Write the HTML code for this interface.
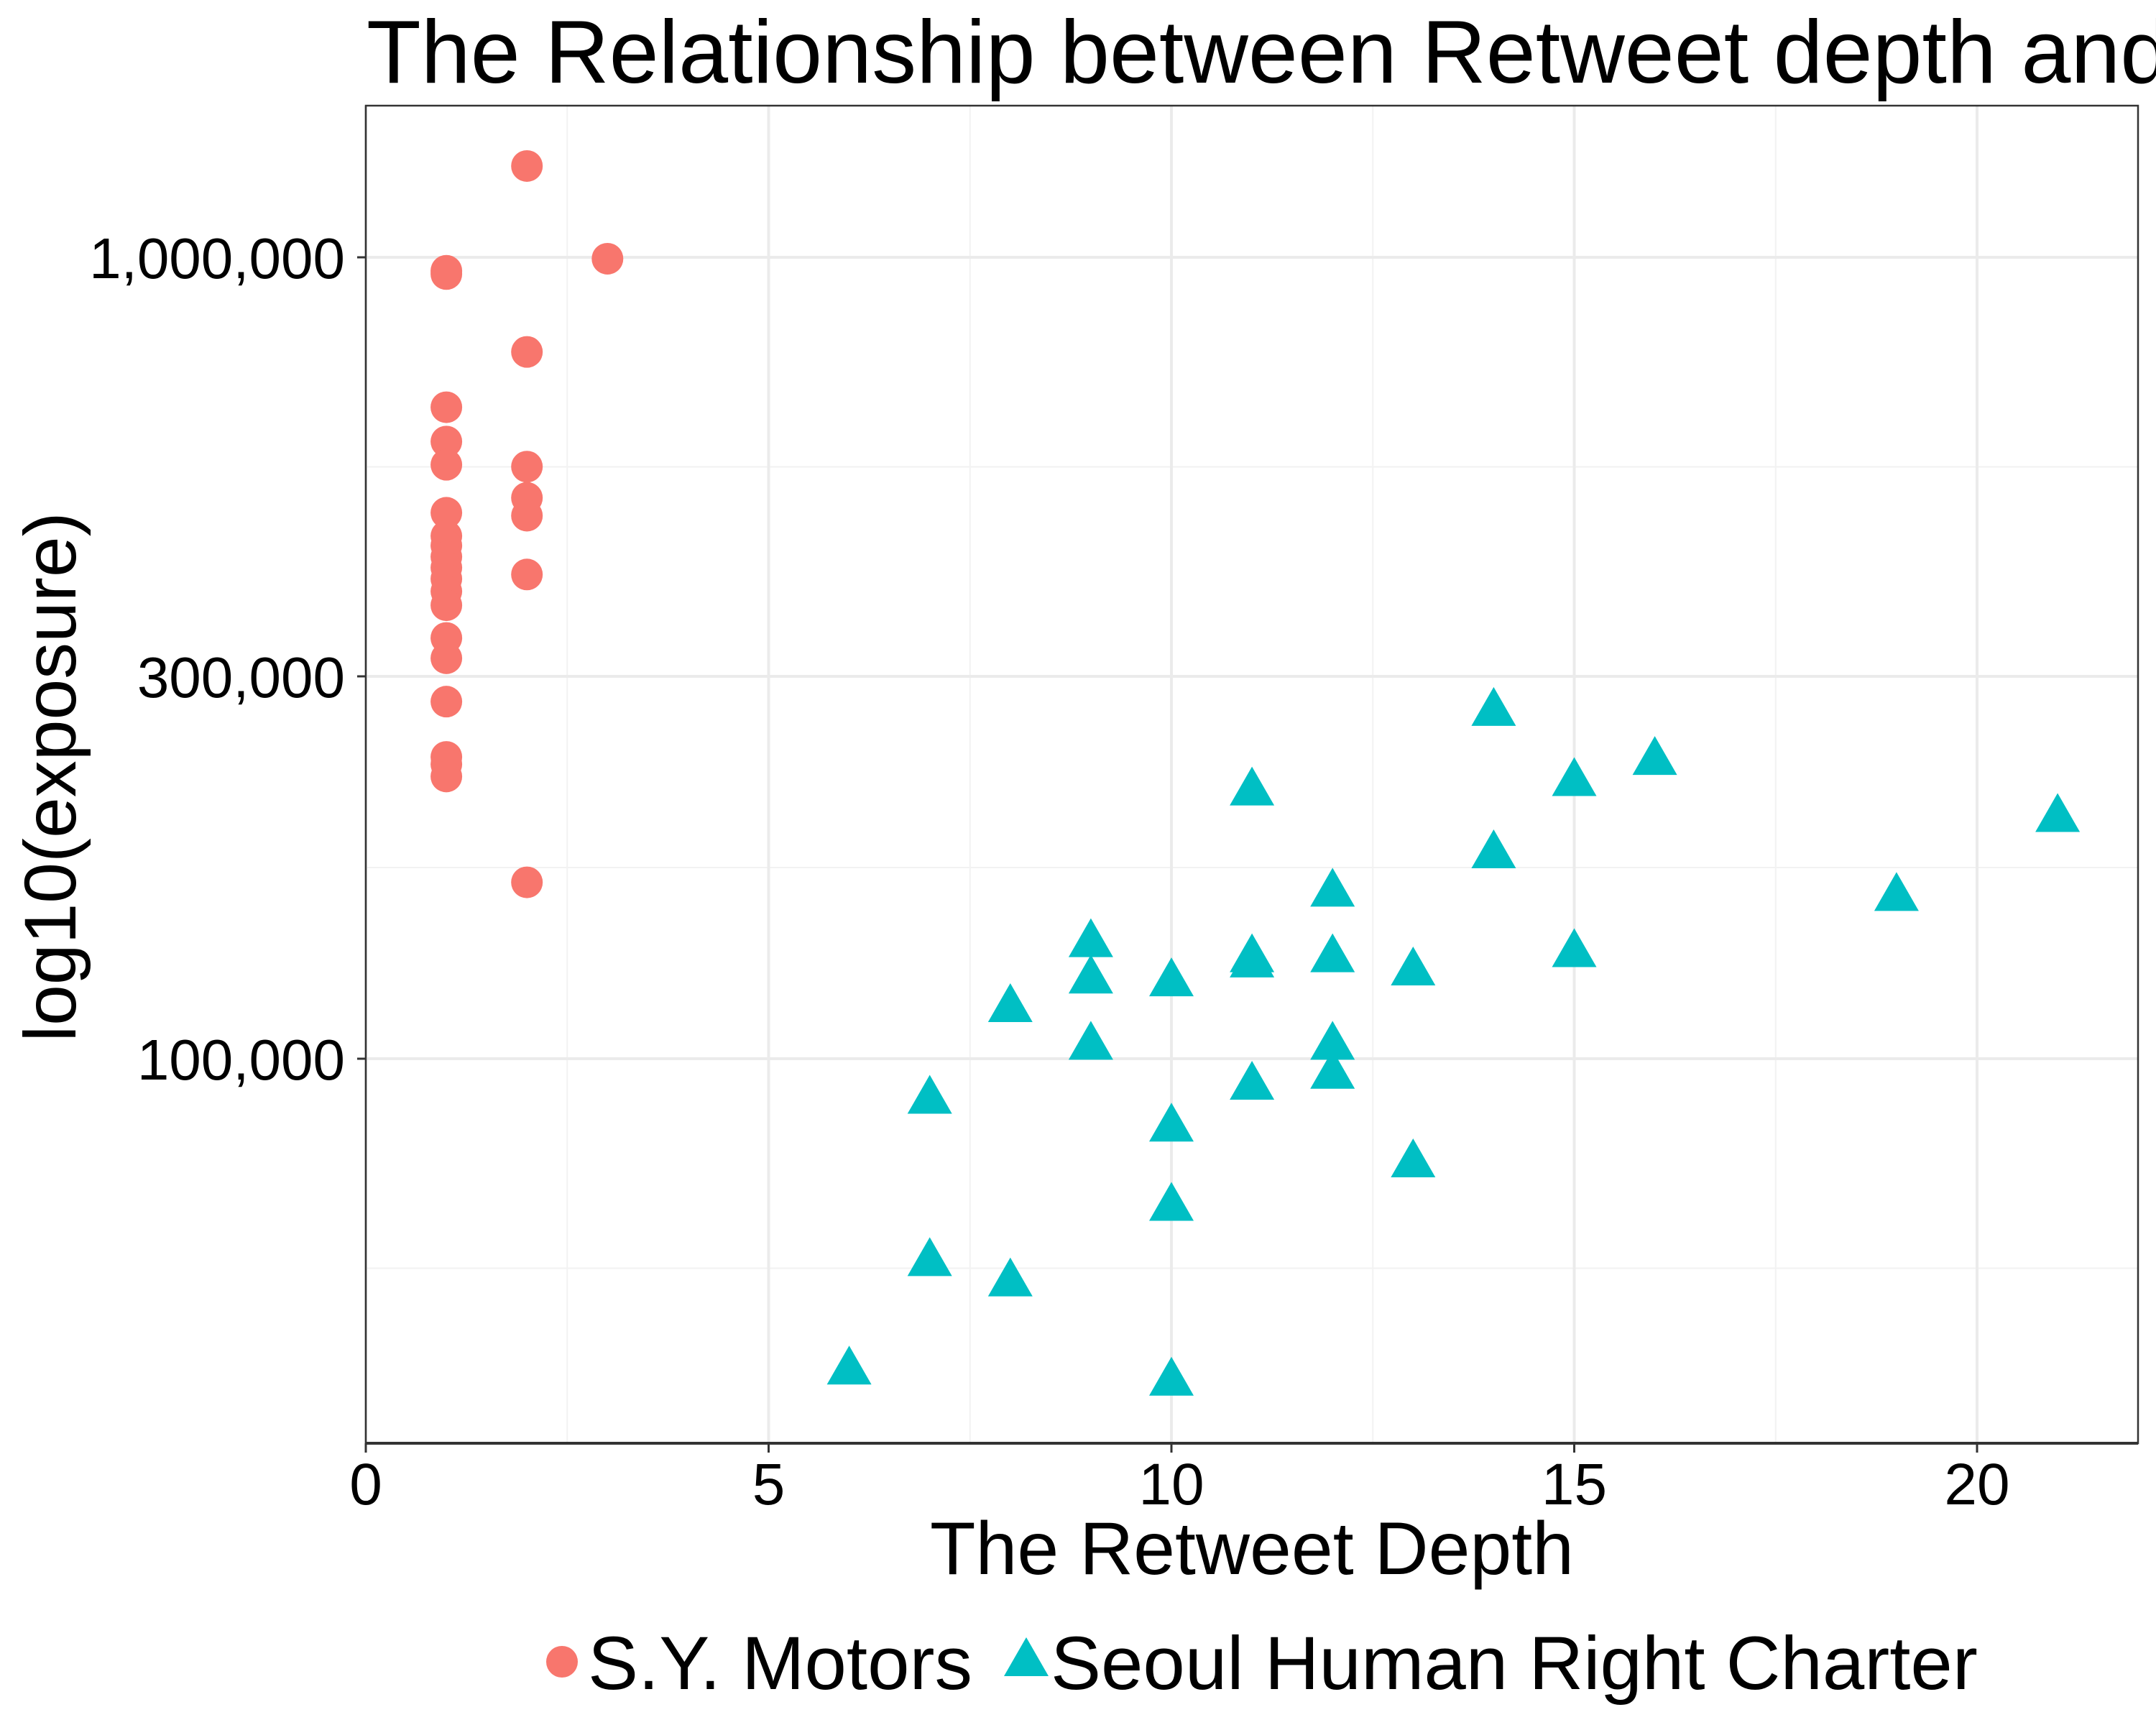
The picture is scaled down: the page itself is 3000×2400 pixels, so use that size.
<!DOCTYPE html>
<html><head><meta charset="utf-8"><style>
html,body{margin:0;padding:0;background:#fff;}
svg{display:block;font-family:"Liberation Sans",sans-serif;}
</style></head><body>
<svg id="chart" width="3000" height="2400" viewBox="0 0 3000 2400">
<rect width="3000" height="2400" fill="#fff"/>
<text x="510" y="115" font-size="124" fill="#000">The Relationship between Retweet depth and exposure</text>
<g id="grid"></g>
<g id="marks"></g>
<rect x="509" y="147" width="2466" height="1861" fill="none" stroke="#333" stroke-width="2.5"/>
<line x1="509" y1="2008" x2="2975" y2="2008" stroke="#333" stroke-width="4"/>
<g id="axes"></g>
<text x="1742" y="2190" font-size="104" text-anchor="middle" fill="#000">The Retweet Depth</text>
<text transform="translate(105,1081) rotate(-90)" font-size="102" text-anchor="middle" fill="#000">log10(exposure)</text>
<g>
<g>
<circle cx="782" cy="2312" r="22" fill="#F8766D"/>
<text x="818" y="2350" font-size="105" fill="#000">S.Y. Motors</text>
</g>
<g>
<polygon points="1428,2278 1459,2332 1397,2332" fill="#00BFC4"/>
<text x="1462" y="2350" font-size="105" fill="#000">Seoul Human Right Charter</text>
</g>
</g>
</svg>
<script>
const redX = [1,1,1,1,1,1,1,1,1,1,1,1,1,1,1,1,1,1,1,2,2,2,2,2,2,2,3];
const redY = [953000,962000,650000,589000,551000,480000,449000,437000,423000,410000,397000,383000,368000,335000,316000,279000,238000,233000,225000,1300000,762000,548000,501000,476000,402000,166000,996000];
const blueX = [14,16,15,11,21,14,12,19,9,15,11,12,11,13,9,10,8,9,12,12,11,7,10,13,10,7,8,6,10];
const blueY = [274000,238000,224000,218000,202000,182000,163000,161000,141000,137000,135000,135000,133000,130000,127000,126000,117000,105000,105000,96600,93600,89900,83000,74900,66100,56400,53200,41300,40000];
const xTicks = [0,5,10,15,20];
const xTickLabels = ["0","5","10","15","20"];
const yTicks = [100000,300000,1000000];
const yTickLabels = ["100,000","300,000","1,000,000"];
const xMinor = [2.5,7.5,12.5,17.5];
const yMinor = [54772,173205,547723];

const NS="http://www.w3.org/2000/svg";
function X(v){return 509+v*112.1;}
function Y(v){return 358-(Math.log10(v)-6)*1115;}
function mk(tag,attrs,parent){const e=document.createElementNS(NS,tag);for(const k in attrs)e.setAttribute(k,attrs[k]);parent.appendChild(e);return e;}
const grid=document.getElementById('grid'),marks=document.getElementById('marks'),axes=document.getElementById('axes');
xMinor.forEach(v=>{const l=mk('line',{x1:X(v),x2:X(v),y1:147,y2:2008,stroke:'#f2f2f2','stroke-width':2},grid);

});
yMinor.forEach(v=>{const l=mk('line',{x1:509,x2:2975,y1:Y(v),y2:Y(v),stroke:'#f2f2f2','stroke-width':2},grid);

});
xTicks.forEach((v,i)=>{const l=mk('line',{x1:X(v),x2:X(v),y1:147,y2:2008,stroke:'#ebebeb','stroke-width':4},grid);


const t=mk('line',{x1:X(v),x2:X(v),y1:2008,y2:2021,stroke:'#333','stroke-width':3},axes);


const s=mk('text',{x:X(v),y:2093,'font-size':82,'text-anchor':'middle',fill:'#000'},axes);s.textContent=xTickLabels[i];

});
yTicks.forEach((v,i)=>{const l=mk('line',{x1:509,x2:2975,y1:Y(v),y2:Y(v),stroke:'#ebebeb','stroke-width':4},grid);


const t=mk('line',{x1:497,x2:509,y1:Y(v),y2:Y(v),stroke:'#333','stroke-width':3},axes);


const s=mk('text',{x:480,y:Y(v)+29,'font-size':80,'text-anchor':'end',fill:'#000'},axes);s.textContent=yTickLabels[i];

});
redX.forEach((x,i)=>{const c=mk('circle',{cx:X(x),cy:Y(redY[i]),r:22,fill:'#F8766D'},marks);

});
blueX.forEach((x,i)=>{const cx=X(x),cy=Y(blueY[i]);
const p=mk('polygon',{points:`${cx},${cy-29} ${cx+31},${cy+25} ${cx-31},${cy+25}`,fill:'#00BFC4'},marks);

});
</script>
</body></html>
